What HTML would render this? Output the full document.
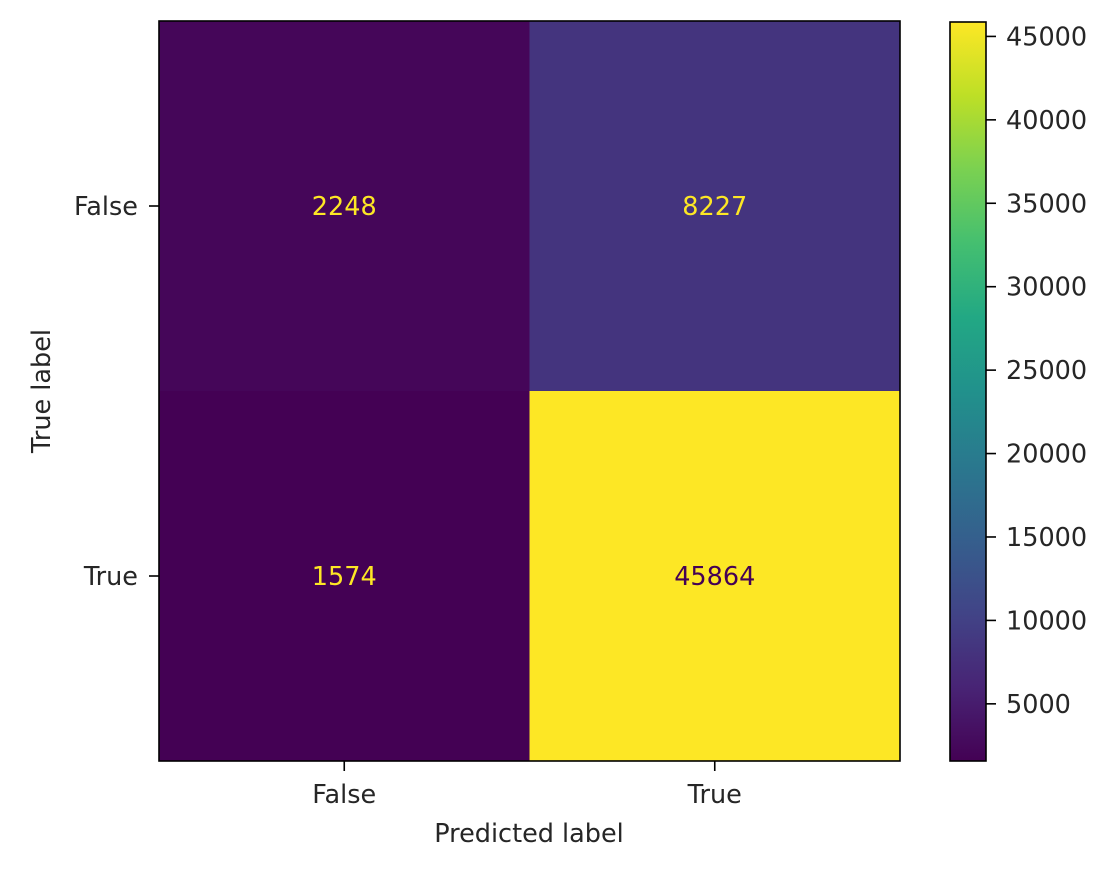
<!DOCTYPE html>
<html><head><meta charset="utf-8"><style>
html,body{margin:0;padding:0;background:#fff;}
svg text{font-family:"DejaVu Sans","Liberation Sans",sans-serif;font-size:25.5px;fill:#262626;}
</style></head><body>
<svg id="chart" width="1117" height="867" viewBox="0 0 1117 867" xmlns="http://www.w3.org/2000/svg">
<defs>
<linearGradient id="vir" x1="0" y1="1" x2="0" y2="0">
<stop offset="0" stop-color="#440154"/><stop offset="0.1" stop-color="#482475"/>
<stop offset="0.2" stop-color="#414487"/><stop offset="0.3" stop-color="#355f8d"/>
<stop offset="0.4" stop-color="#2a788e"/><stop offset="0.5" stop-color="#21918c"/>
<stop offset="0.6" stop-color="#22a884"/><stop offset="0.7" stop-color="#44bf70"/>
<stop offset="0.8" stop-color="#7ad151"/><stop offset="0.9" stop-color="#bddf26"/>
<stop offset="1" stop-color="#fde725"/>
</linearGradient>
</defs>
<g id="cells"></g>
<rect x="159" y="21" width="741" height="740" fill="none" stroke="#000" stroke-width="1.6"/>
<g id="axes"></g>
<rect x="950" y="22" width="36" height="739" fill="url(#vir)" stroke="#000" stroke-width="1.6"/>
<g id="cbticks"></g>
<text x="529" y="842" text-anchor="middle">Predicted label</text>
<text transform="translate(50,391) rotate(-90)" text-anchor="middle">True label</text>
</svg>
<script>
const categories = ["False","True"];
const matrix = [[2248, 8227],[1574, 45864]];
const cbTicks = [5000,10000,15000,20000,25000,30000,35000,40000,45000];
const NS="http://www.w3.org/2000/svg";
const L=159,T=21,W=741,H=740;
const vmin=Math.min(...matrix.flat()), vmax=Math.max(...matrix.flat());
const stops=["#440154","#482475","#414487","#355f8d","#2a788e","#21918c","#22a884","#44bf70","#7ad151","#bddf26","#fde725"];
function hex(c){return [1,3,5].map(i=>parseInt(c.substr(i,2),16));}
function viridis(t){t=Math.max(0,Math.min(1,t));const p=t*10,i=Math.min(9,Math.floor(p)),f=p-i;const a=hex(stops[i]),b=hex(stops[i+1]);return "rgb("+a.map((v,k)=>Math.round(v+(b[k]-v)*f)).join(",")+")";}
function mk(tag,attrs,parent){const e=document.createElementNS(NS,tag);for(const k in attrs)e.setAttribute(k,attrs[k]);parent.appendChild(e);return e;}
const n=categories.length,cw=W/n,ch=H/n;
const cells=document.getElementById('cells'),axes=document.getElementById('axes'),cb=document.getElementById('cbticks');
matrix.forEach((row,r)=>row.forEach((v,c)=>{
  const t=(v-vmin)/(vmax-vmin);
  const rc=mk('rect',{x:L+c*cw,y:T+r*ch,width:cw+0.5,height:ch+0.5,fill:viridis(t)},cells);
  
  
  const tx=mk('text',{x:L+(c+0.5)*cw,y:T+(r+0.5)*ch+9,'text-anchor':'middle'},cells);
  
  
  tx.style.fill=t>0.5?"#440154":"#fde725";
  tx.textContent=v;
}));
categories.forEach((cat,i)=>{
  const x=L+(i+0.5)*cw, y=T+(i+0.5)*ch;
  mk('line',{x1:x,x2:x,y1:T+H,y2:T+H+10,stroke:'#000','stroke-width':1.6},axes);
  const xl=mk('text',{x:x,y:T+H+42,'text-anchor':'middle'},axes);
  
  
  xl.textContent=cat;
  mk('line',{x1:L-10,x2:L,y1:y,y2:y,stroke:'#000','stroke-width':1.6},axes);
  const yl=mk('text',{x:L-21,y:y+9,'text-anchor':'end'},axes);
  
  
  yl.textContent=cat;
});
const cbT=22,cbH=739,cbR=986;
cbTicks.forEach(v=>{
  const y=cbT+cbH-(v-vmin)/(vmax-vmin)*cbH;
  mk('line',{x1:cbR,x2:cbR+10,y1:y,y2:y,stroke:'#000','stroke-width':1.6},cb);
  const tl=mk('text',{x:cbR+20,y:y+9},cb);
  
  
  tl.textContent=v;
});
</script>
</body></html>
